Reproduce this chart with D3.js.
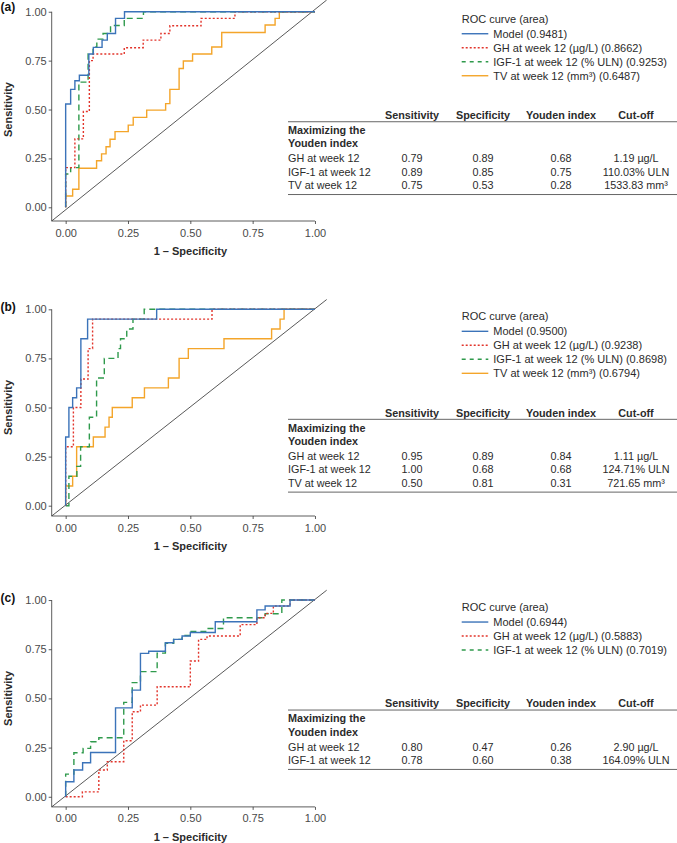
<!DOCTYPE html>
<html>
<head>
<meta charset="utf-8">
<script src="https://cdn.jsdelivr.net/npm/d3@7"></script>
<style>
  html, body { margin: 0; padding: 0; background: #fff; }
  svg { display: block; font-family: "Liberation Sans", Arial, sans-serif; }
</style>
</head>
<body>
<svg id="chart" width="677" height="843"></svg>
<script>
// ---------------- DATA ----------------
const xTicks = [0, 0.25, 0.5, 0.75, 1];
const yTicks = [0, 0.25, 0.5, 0.75, 1];
const xTitle = "1 – Specificity";
const yTitle = "Sensitivity";
const legendTitle = "ROC curve (area)";
const panelLabels = ["(a)", "(b)", "(c)"];

const seriesNames = ["Model", "GH at week 12 (µg/L)", "IGF-1 at week 12 (% ULN)", "TV at week 12 (mm³)"];
const aucA = [0.9481, 0.8662, 0.9253, 0.6487];
const aucB = [0.9500, 0.9238, 0.8698, 0.6794];
const aucC = [0.6944, 0.5883, 0.7019];

// ROC vertices [1 - specificity, sensitivity]
const rocA_model = [[0,0],[0,0.528],[0.02,0.528],[0.02,0.603],[0.037,0.603],[0.037,0.647],[0.055,0.647],[0.055,0.675],[0.093,0.675],[0.093,0.784],[0.111,0.784],[0.111,0.818],[0.146,0.818],[0.146,0.855],[0.167,0.855],[0.167,0.889],[0.2,0.889],[0.2,0.966],[0.236,0.966],[0.236,1],[1,1]];
const rocA_gh = [[0,0],[0,0.203],[0.037,0.203],[0.037,0.35],[0.071,0.35],[0.071,0.49],[0.095,0.49],[0.095,0.75],[0.11,0.75],[0.11,0.784],[0.235,0.784],[0.235,0.816],[0.311,0.816],[0.311,0.855],[0.382,0.855],[0.382,0.889],[0.418,0.889],[0.418,0.928],[0.543,0.928],[0.543,0.966],[0.679,0.966],[0.679,1],[1,1]];
const rocA_igf = [[0,0],[0,0.17],[0.02,0.17],[0.02,0.203],[0.053,0.203],[0.053,0.64],[0.09,0.64],[0.09,0.784],[0.11,0.784],[0.11,0.82],[0.125,0.82],[0.125,0.86],[0.15,0.86],[0.15,0.889],[0.18,0.889],[0.18,0.93],[0.235,0.93],[0.235,0.966],[0.312,0.966],[0.312,1],[1,1]];
const rocA_tv = [[0,0],[0,0.058],[0.028,0.058],[0.028,0.092],[0.053,0.092],[0.053,0.2],[0.124,0.2],[0.124,0.238],[0.144,0.238],[0.144,0.273],[0.162,0.273],[0.162,0.31],[0.178,0.31],[0.178,0.348],[0.198,0.348],[0.198,0.387],[0.251,0.387],[0.251,0.42],[0.271,0.42],[0.271,0.46],[0.325,0.46],[0.325,0.497],[0.401,0.497],[0.401,0.53],[0.418,0.53],[0.418,0.603],[0.455,0.603],[0.455,0.71],[0.472,0.71],[0.472,0.748],[0.509,0.748],[0.509,0.784],[0.586,0.784],[0.586,0.82],[0.626,0.82],[0.626,0.894],[0.8,0.894],[0.8,0.932],[0.84,0.932],[0.84,0.966],[0.857,0.966],[0.857,1],[1,1]];

const rocB_model = [[0,0],[0,0.35],[0.013,0.35],[0.013,0.5],[0.028,0.5],[0.028,0.55],[0.044,0.55],[0.044,0.6],[0.061,0.6],[0.061,0.85],[0.088,0.85],[0.088,0.95],[0.365,0.95],[0.365,1],[1,1]];
const rocB_gh = [[0,0],[0,0.3],[0.031,0.3],[0.031,0.5],[0.061,0.5],[0.061,0.645],[0.09,0.645],[0.09,0.8],[0.108,0.8],[0.108,0.95],[0.587,0.95],[0.587,1],[1,1]];
const rocB_igf = [[0,0],[0.013,0],[0.013,0.15],[0.045,0.15],[0.045,0.2],[0.06,0.2],[0.06,0.3],[0.095,0.3],[0.095,0.45],[0.124,0.45],[0.124,0.65],[0.155,0.65],[0.155,0.75],[0.21,0.75],[0.21,0.8],[0.22,0.8],[0.22,0.85],[0.245,0.85],[0.245,0.9],[0.27,0.9],[0.27,0.95],[0.315,0.95],[0.315,1],[1,1]];
const rocB_tv = [[0,0],[0,0.1],[0.028,0.1],[0.028,0.15],[0.044,0.15],[0.044,0.3],[0.111,0.3],[0.111,0.35],[0.158,0.35],[0.158,0.4],[0.174,0.4],[0.174,0.45],[0.187,0.45],[0.187,0.5],[0.267,0.5],[0.267,0.55],[0.316,0.55],[0.316,0.6],[0.412,0.6],[0.412,0.65],[0.455,0.65],[0.455,0.75],[0.492,0.75],[0.492,0.8],[0.635,0.8],[0.635,0.85],[0.826,0.85],[0.826,0.9],[0.86,0.9],[0.86,0.95],[0.876,0.95],[0.876,1],[1,1]];

const rocC_model = [[0,0],[0,0.076],[0.033,0.076],[0.033,0.136],[0.068,0.136],[0.068,0.173],[0.1,0.173],[0.1,0.225],[0.2,0.225],[0.2,0.452],[0.267,0.452],[0.267,0.542],[0.3,0.542],[0.3,0.729],[0.333,0.729],[0.333,0.74],[0.4,0.74],[0.4,0.783],[0.433,0.783],[0.433,0.8],[0.467,0.8],[0.467,0.817],[0.5,0.817],[0.5,0.835],[0.6,0.835],[0.6,0.89],[0.767,0.89],[0.767,0.95],[0.8,0.95],[0.8,0.97],[0.9,0.97],[0.9,1],[1,1]];
const rocC_gh = [[0,0],[0.067,0],[0.067,0.025],[0.133,0.025],[0.133,0.136],[0.167,0.136],[0.167,0.178],[0.233,0.178],[0.233,0.285],[0.267,0.285],[0.267,0.432],[0.3,0.432],[0.3,0.466],[0.367,0.466],[0.367,0.559],[0.5,0.559],[0.5,0.69],[0.533,0.69],[0.533,0.8],[0.567,0.8],[0.567,0.817],[0.7,0.817],[0.7,0.875],[0.767,0.875],[0.767,0.91],[0.8,0.91],[0.8,0.932],[0.833,0.932],[0.833,0.97],[0.9,0.97],[0.9,1],[1,1]];
const rocC_igf = [[0,0],[0,0.115],[0.033,0.115],[0.033,0.224],[0.07,0.224],[0.07,0.246],[0.1,0.246],[0.1,0.28],[0.133,0.28],[0.133,0.3],[0.233,0.3],[0.233,0.48],[0.267,0.48],[0.267,0.58],[0.3,0.58],[0.3,0.636],[0.367,0.636],[0.367,0.73],[0.4,0.73],[0.4,0.78],[0.433,0.78],[0.433,0.8],[0.467,0.8],[0.467,0.82],[0.5,0.82],[0.5,0.84],[0.567,0.84],[0.567,0.855],[0.633,0.855],[0.633,0.91],[0.8,0.91],[0.8,0.93],[0.867,0.93],[0.867,1],[1,1]];

// Table data
const tableHeaders = ["Sensitivity", "Specificity", "Youden index", "Cut-off"];
const tableSection = ["Maximizing the", "Youden index"];
const rowLabels = ["GH at week 12", "IGF-1 at week 12", "TV at week 12"];
const sensA = [0.79, 0.89, 0.75], specA = [0.89, 0.85, 0.53], youdenA = [0.68, 0.75, 0.28];
const cutA = ["1.19 µg/L", "110.03% ULN", "1533.83 mm³"];
const sensB = [0.95, 1.00, 0.50], specB = [0.89, 0.68, 0.81], youdenB = [0.84, 0.68, 0.31];
const cutB = ["1.11 µg/L", "124.71% ULN", "721.65 mm³"];
const sensC = [0.80, 0.78], specC = [0.47, 0.60], youdenC = [0.26, 0.38];
const cutC = ["2.90 µg/L", "164.09% ULN"];

// ---------------- STYLE / LAYOUT ----------------
const colors = ["#3b73b9", "#e2342b", "#2f9a4c", "#f4a52a"];
const dashes = [null, "2,2", "6,4", null];
const legendDashes = [null, "2,2", "4,4", null];
const fmt2 = d3.format(".2f");

const panels = [
  { label: panelLabels[0], labelY: 7, yDom: [-0.07, 1.06], yRange: [221, 0],
    curves: [rocA_model, rocA_gh, rocA_igf, rocA_tv], auc: aucA,
    table: { sens: sensA, spec: specA, youden: youdenA, cut: cutA } },
  { label: panelLabels[1], labelY: 307, yDom: [-0.0525, 1.05], yRange: [516, 299.5],
    curves: [rocB_model, rocB_gh, rocB_igf, rocB_tv], auc: aucB,
    table: { sens: sensB, spec: specB, youden: youdenB, cut: cutB } },
  { label: panelLabels[2], labelY: 598, yDom: [-0.0515, 1.05], yRange: [806.9, 590.2],
    curves: [rocC_model, rocC_gh, rocC_igf], auc: aucC,
    table: { sens: sensC, spec: specC, youden: youdenC, cut: cutC } }
];

const svg = d3.select("#chart");
const textCol = "#2b2b2b";
const axisCol = "#333";

panels.forEach(p => {
  const g = svg.append("g");
  const xDom = [-0.056, 1.047];
  const x = d3.scaleLinear().domain(xDom).range([51.7, 326.7]);
  const y = d3.scaleLinear().domain(p.yDom).range(p.yRange);
  const y1 = y(1), y0 = y(0), yb = y(p.yDom[0]), xl = x(xDom[0]);

  // diagonal reference
  g.append("line")
    .attr("x1", x(xDom[0])).attr("y1", y(p.yDom[0]))
    .attr("x2", x(xDom[1])).attr("y2", y(p.yDom[1]))
    .attr("stroke", "#111").attr("stroke-width", 0.7);

  // axes
  const xAxis = d3.axisBottom(x).tickValues(xTicks).tickFormat(fmt2).tickSize(3).tickSizeOuter(0);
  const yAxis = d3.axisLeft(y).tickValues(yTicks).tickFormat(fmt2).tickSize(3).tickSizeOuter(0);
  const gx = g.append("g").attr("transform", `translate(0,${yb})`).call(xAxis);
  const gy = g.append("g").attr("transform", `translate(${xl},0)`).call(yAxis);
  [gx, gy].forEach(ax => {
    ax.select(".domain").remove();
    ax.selectAll(".tick line").attr("stroke", axisCol).attr("stroke-width", 0.8);
    ax.selectAll(".tick text").attr("fill", "#4a4a4a").attr("font-size", 11)
      .attr("font-family", "Liberation Sans, Arial, sans-serif");
  });
  gx.selectAll(".tick text").attr("dy", null).attr("y", 0).attr("dy", "1.05em").attr("y", 4);
  gy.selectAll(".tick text").attr("x", -5);
  // capped axis lines (corner to last tick)
  g.append("path")
    .attr("d", `M${xl},${y(1)}V${yb}H${x(1)}`)
    .attr("fill", "none").attr("stroke", axisCol).attr("stroke-width", 0.8);

  // axis titles
  g.append("text").attr("x", x(0.5)).attr("y", yb + 34)
    .attr("text-anchor", "middle").attr("font-size", 11).attr("font-weight", "bold")
    .attr("fill", textCol).text(xTitle);
  g.append("text").attr("transform", `translate(12.3,${(y0 + y1) / 2}) rotate(-90)`)
    .attr("text-anchor", "middle").attr("font-size", 11).attr("font-weight", "bold")
    .attr("fill", textCol).text(yTitle);

  // panel label
  g.append("text").attr("x", 0.5).attr("y", p.labelY + 4.3)
    .attr("font-size", 12).attr("font-weight", "bold").attr("fill", "#111").text(p.label);

  // curves (drawn so Model is on top)
  const line = d3.line().x(d => x(d[0])).y(d => y(d[1]));
  const order = d3.range(p.curves.length).reverse();
  order.forEach(i => {
    g.append("path").datum(p.curves[i])
      .attr("d", line).attr("fill", "none")
      .attr("stroke", colors[i]).attr("stroke-width", 1.4)
      .attr("stroke-dasharray", dashes[i]);
  });

  // legend
  const lg = g.append("g");
  lg.append("text").attr("x", 461.7).attr("y", y1 + 7 + 3.9)
    .attr("font-size", 11).attr("fill", textCol).text(legendTitle);
  p.curves.forEach((c, i) => {
    const yy = y1 + 22 + i * 14;
    lg.append("line").attr("x1", 461.7).attr("x2", 488.3).attr("y1", yy).attr("y2", yy)
      .attr("stroke", colors[i]).attr("stroke-width", 1.4)
      .attr("stroke-dasharray", legendDashes[i]);
    lg.append("text").attr("x", 493.3).attr("y", yy + 3.9)
      .attr("font-size", 11).attr("fill", textCol)
      .text(`${seriesNames[i]} (${d3.format(".4f")(p.auc[i])})`);
  });

  // table
  const tg = g.append("g");
  const colX = [412, 483, 561, 636];
  const tLeft = 288, tRight = 677;
  const fs = 10.8, bl = 3.8;
  tableHeaders.forEach((h, j) => {
    tg.append("text").attr("x", colX[j]).attr("y", y1 + 103.5 + bl)
      .attr("text-anchor", "middle").attr("font-size", fs).attr("font-weight", "bold")
      .attr("fill", textCol).text(h);
  });
  tg.append("line").attr("x1", tLeft).attr("x2", tRight)
    .attr("y1", y1 + 110).attr("y2", y1 + 110).attr("stroke", "#666").attr("stroke-width", 1);
  tableSection.forEach((s, k) => {
    tg.append("text").attr("x", tLeft).attr("y", y1 + 118.5 + k * 13.3 + bl)
      .attr("font-size", fs).attr("font-weight", "bold").attr("fill", textCol).text(s);
  });
  const t = p.table;
  const nRows = t.sens.length;
  for (let r = 0; r < nRows; r++) {
    const yy = y1 + 146.7 + r * 13.4 + bl;
    tg.append("text").attr("x", tLeft).attr("y", yy).attr("font-size", fs).attr("fill", textCol).text(rowLabels[r]);
    [fmt2(t.sens[r]), fmt2(t.spec[r]), fmt2(t.youden[r]), t.cut[r]].forEach((v, j) => {
      tg.append("text").attr("x", colX[j]).attr("y", yy).attr("text-anchor", "middle")
        .attr("font-size", fs).attr("fill", textCol).text(v);
    });
  }
  const bLine = y1 + 146.7 + (nRows - 1) * 13.4 + 9.3;
  tg.append("line").attr("x1", tLeft).attr("x2", tRight)
    .attr("y1", bLine).attr("y2", bLine).attr("stroke", "#666").attr("stroke-width", 1);
});
</script>
</body>
</html>
